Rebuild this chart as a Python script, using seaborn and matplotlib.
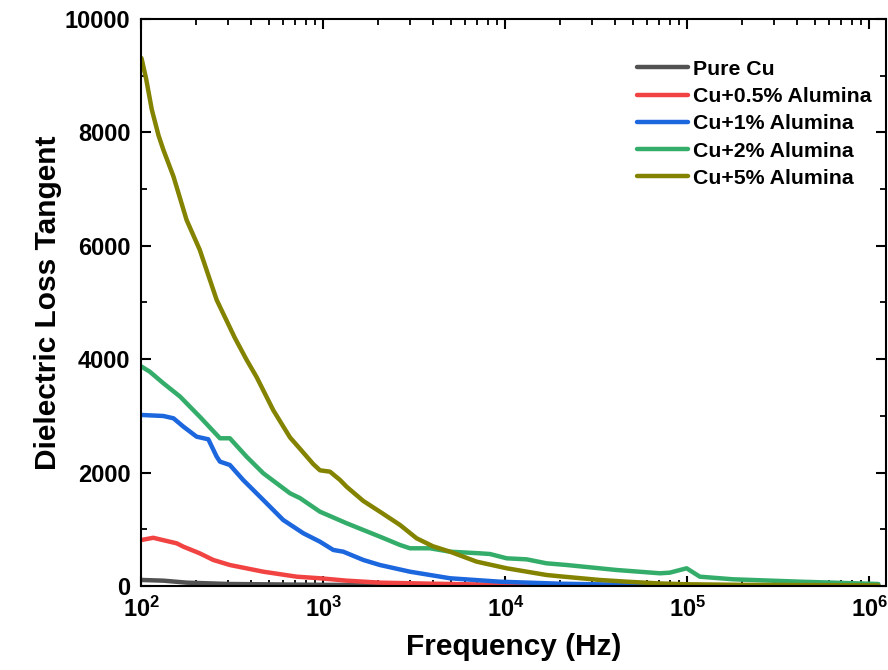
import matplotlib
matplotlib.use("Agg")
import matplotlib.pyplot as plt
import numpy as np
import pandas as pd
import seaborn as sns
from matplotlib.ticker import MultipleLocator, LogLocator, NullFormatter

# ---- measured dielectric loss tangent vs. frequency ----
samples = ["Pure Cu", "Cu+0.5% Alumina", "Cu+1% Alumina", "Cu+2% Alumina", "Cu+5% Alumina"]
colors = ["#525252", "#F24343", "#1C66DE", "#34AD6A", "#838300"]

freq_cu = [100, 132, 177, 306, 1000, 1e4, 1e5, 1.12e6]
tan_cu = [106, 94, 59, 35, 20, 10, 5, 3]

freq_05 = [100, 116, 143, 156, 170, 209, 248, 306, 467, 713, 957, 1341, 2043, 4000, 1e4, 1e5, 1.12e6]
tan_05 = [811, 850, 781, 753, 693, 576, 459, 370, 252, 164, 136, 94, 59, 40, 20, 8, 5]

freq_1 = [100, 132, 150, 170, 201, 233, 259, 270, 306, 362, 467, 601, 775, 957, 1133,
          1285, 1655, 2043, 2988, 4960, 9280, 2e4, 5e4, 1e5, 1.12e6]
tan_1 = [3016, 2998, 2957, 2810, 2633, 2587, 2281, 2193, 2134, 1870, 1517, 1164, 930, 781, 635,
         605, 459, 370, 252, 136, 76, 40, 20, 12, 5]

freq_2 = [100, 111, 132, 163, 209, 270, 306, 378, 467, 655, 743, 957, 1341, 1655, 2043,
          2635, 2988, 3846, 4960, 7240, 8220, 10160, 13070, 16800, 21700, 40800, 70600,
          80000, 99000, 117000, 178000, 415000, 1.12e6]
tan_2 = [3870, 3780, 3575, 3340, 2986, 2605, 2605, 2281, 1988, 1635, 1550, 1310, 1106, 988, 870,
         723, 665, 665, 605, 576, 564, 488, 470, 400, 370, 282, 224,
         235, 312, 164, 118, 76, 35]

freq_5 = [100, 106, 114, 124, 132, 150, 177, 209, 259, 326, 378, 430, 530, 655, 743, 879,
          957, 1086, 1233, 1341, 1655, 2043, 2635, 3250, 4000, 4960, 6950, 10160, 16800,
          20000, 33000, 46300, 70000, 1e5, 2e5, 5e5, 1.12e6]
tan_5 = [9310, 8950, 8400, 7950, 7690, 7220, 6455, 5930, 5045, 4375, 3990, 3680, 3100, 2620,
         2420, 2150, 2040, 2016, 1870, 1750, 1500, 1310, 1076, 841, 700, 605, 429, 312, 194,
         170, 106, 76, 45, 30, 20, 15, 10]

x_major = [1e2, 1e3, 1e4, 1e5, 1e6]
x_labels = [r"$\mathbf{10^{2}}$", r"$\mathbf{10^{3}}$", r"$\mathbf{10^{4}}$",
            r"$\mathbf{10^{5}}$", r"$\mathbf{10^{6}}$"]
y_major = [0, 2000, 4000, 6000, 8000, 10000]

frames = []
for name, f, v in zip(samples,
                      [freq_cu, freq_05, freq_1, freq_2, freq_5],
                      [tan_cu, tan_05, tan_1, tan_2, tan_5]):
    frames.append(pd.DataFrame({"Frequency": f, "Loss": v, "Sample": name}))
df = pd.concat(frames, ignore_index=True)

sns.set_theme(style="ticks")
plt.rcParams["font.family"] = ["Liberation Sans", "DejaVu Sans"]
plt.rcParams["font.weight"] = "bold"
plt.rcParams["text.color"] = "black"
plt.rcParams["axes.labelcolor"] = "black"
plt.rcParams["xtick.color"] = "black"
plt.rcParams["ytick.color"] = "black"
plt.rcParams["mathtext.fontset"] = "custom"
plt.rcParams["mathtext.rm"] = "Liberation Sans:bold"
plt.rcParams["mathtext.bf"] = "Liberation Sans:bold"
plt.rcParams["mathtext.it"] = "Liberation Sans:bold"

fig = plt.figure(figsize=(8.88, 6.70), dpi=100)
ax = fig.add_axes([0.1593, 0.1254, 0.8384, 0.8463])

sns.lineplot(data=df, x="Frequency", y="Loss", hue="Sample", hue_order=samples,
             palette=colors, estimator=None, linewidth=3.2, ax=ax, legend=True)

ax.set_xscale("log")
ax.set_xlim(100, 1.233e6)
ax.set_ylim(0, 10000)

ax.set_xticks(x_major)
ax.set_xticklabels(x_labels)
ax.xaxis.set_minor_locator(LogLocator(base=10, subs=np.arange(2, 10)))
ax.xaxis.set_minor_formatter(NullFormatter())
ax.set_yticks(y_major)
ax.set_yticklabels([str(v) for v in y_major])
ax.yaxis.set_minor_locator(MultipleLocator(1000))

for s in ax.spines.values():
    s.set_visible(True)
    s.set_linewidth(1.5)
    s.set_color("black")

ax.tick_params(which="both", direction="in", top=True, right=True, colors="black")
ax.tick_params(which="major", length=7, width=1.5, labelsize=17, pad=8)
ax.tick_params(which="minor", length=4, width=1.3)
for lab in ax.get_yticklabels():
    lab.set_fontweight("bold")

ax.set_xlabel("Frequency (Hz)", fontsize=21.5, fontweight="bold", labelpad=8, color="black")
ax.set_ylabel("Dielectric Loss Tangent", fontsize=21.5, fontweight="bold", labelpad=2,
              color="black")

leg = ax.legend(loc="upper left", bbox_to_anchor=(0.6655, 0.928), frameon=False,
                fontsize=15.3, handlelength=2.4, handletextpad=0.25, labelspacing=0.39,
                borderpad=0, borderaxespad=0)
for t in leg.get_texts():
    t.set_fontweight("bold")
    t.set_color("black")
for h in leg.get_lines():
    h.set_linewidth(3.2)

ax.grid(False)
fig.savefig("out.png", dpi=100, facecolor="white")
